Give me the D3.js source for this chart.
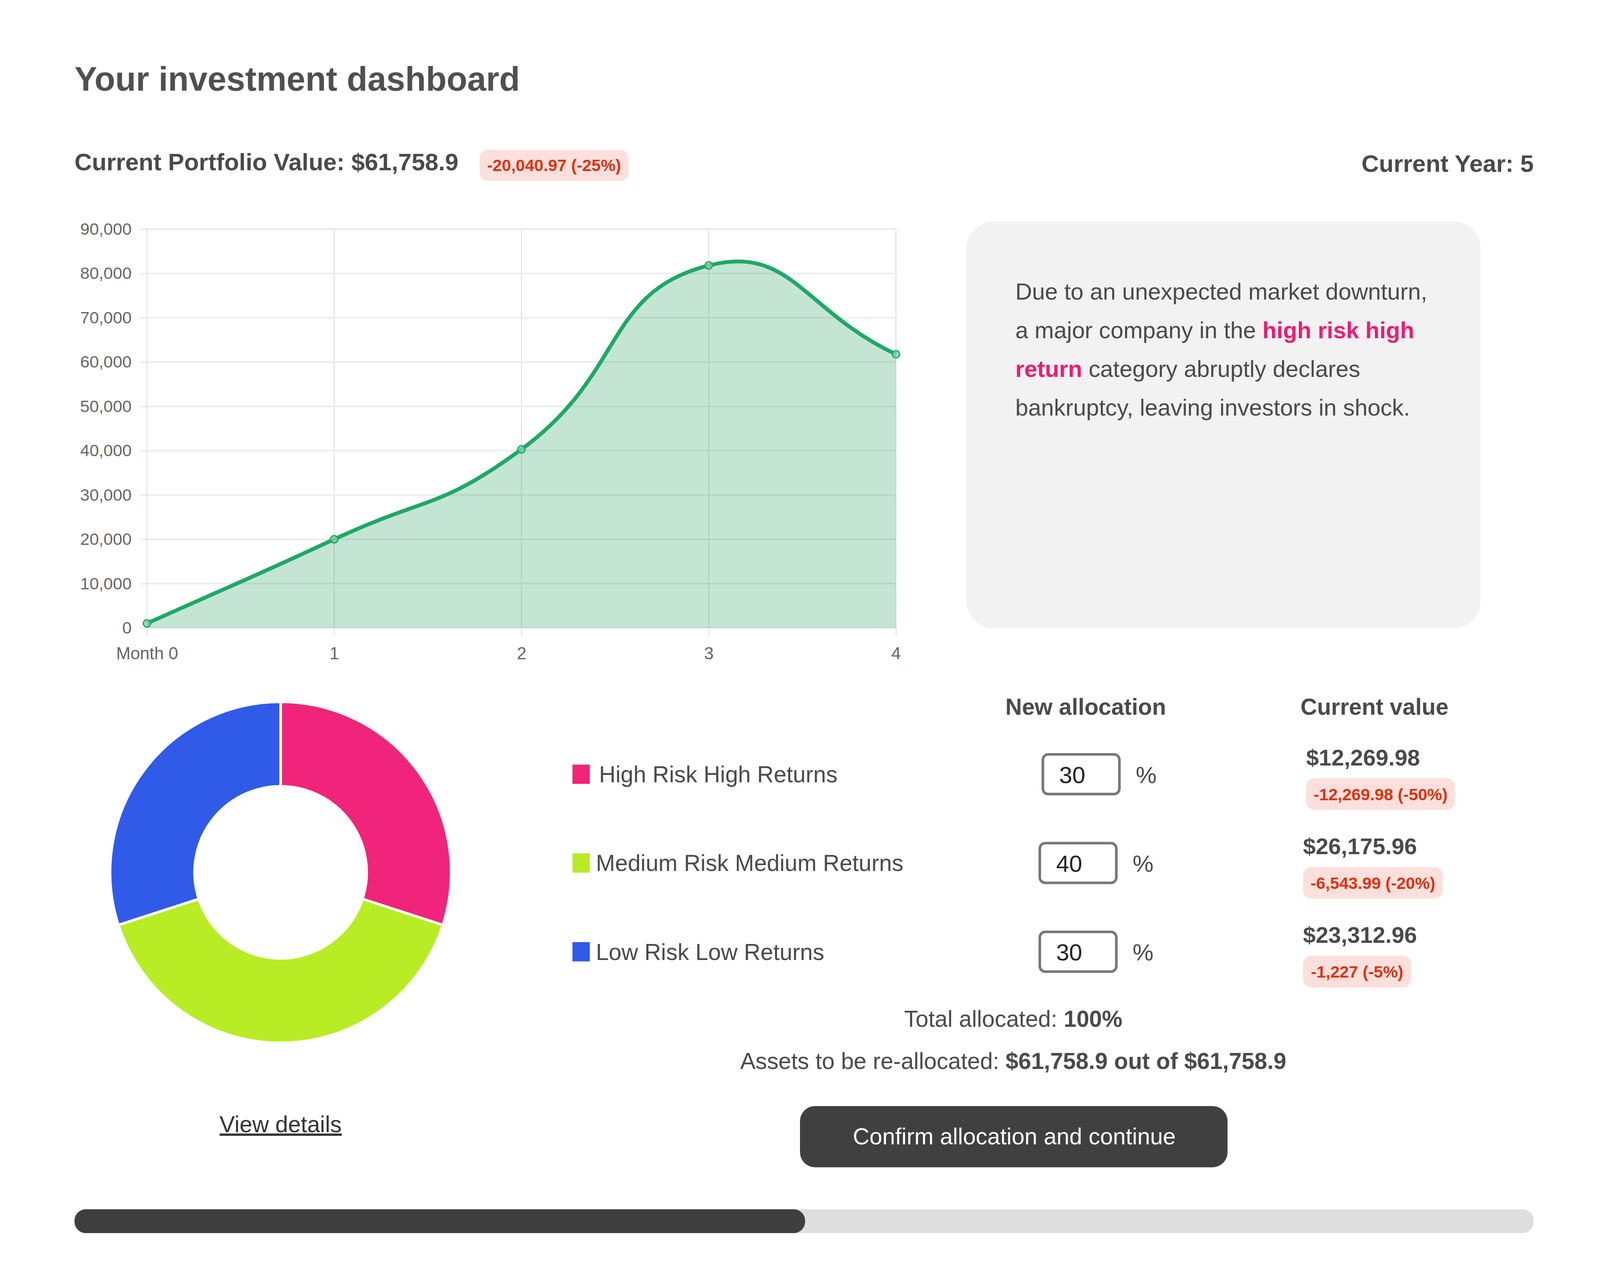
<!DOCTYPE html>
<html><head><meta charset="utf-8">
<script src="https://cdn.jsdelivr.net/npm/d3@7"></script>
<style>
html,body{margin:0;padding:0;background:#fff;overflow:hidden}
svg{display:block}
text{font-family:"Liberation Sans",Arial,sans-serif;fill:#4a4a4a}
</style></head><body>
<script>
const monthLabels = ["Month 0","1","2","3","4"];
const portfolioValues = [1000,20000,40300,81800,61759];
const yTicks = [0,10000,20000,30000,40000,50000,60000,70000,80000,90000];
const assetNames = ["High Risk High Returns","Medium Risk Medium Returns","Low Risk Low Returns"];
const allocations = [30,40,30];
const assetColors = ["#f0247a","#b8ec24","#2f5be8"];
const currentValues = ["$12,269.98","$26,175.96","$23,312.96"];
const changes = ["-12,269.98 (-50%)","-6,543.99 (-20%)","-1,227 (-5%)"];
const infoLines = [
 [["Due to an unexpected market downturn,",0]],
 [["a major company in the ",0],["high risk high",1]],
 [["return",1],[" category abruptly declares",0]],
 [["bankruptcy, leaving investors in shock.",0]]
];
const W=window.innerWidth,H=window.innerHeight,sx=W/1568,sy=H/1131,sm=Math.sqrt(sx*sy);
const X=d3.scaleLinear().domain([0,1568]).range([0,W]),Y=d3.scaleLinear().domain([0,1131]).range([0,H]);
const svg=d3.select("body").append("svg").attr("width",W).attr("height",H);
const T=(x,y,s,size,o={})=>{const fs=size*sx;const t=svg.append("text").attr("x",X(x)).attr("y",Y(y)-.36*size*(sy-sx)).text(s).attr("font-size",fs);
 if(o.b)t.attr("font-weight",700); if(o.a)t.attr("text-anchor",o.a); if(o.c)t.style("fill",o.c); return t;};
const R=(x,y,w,h,r,f)=>svg.append("rect").attr("x",X(x)).attr("y",Y(y)).attr("width",w*sx).attr("height",h*sy).attr("rx",r*sm).attr("fill",f);

T(73,81,"Your investment dashboard",33.2,{b:1,c:"#505050"});
T(73,151,"Current Portfolio Value: $61,758.9",23.6,{b:1});
R(470,132,146,27.5,8,"#fde0dc");
T(543,151.5,"-20,040.97 (-25%)",16.3,{b:1,a:"middle",c:"#dd3311"});
T(1503,152.5,"Current Year: 5",23.6,{b:1,a:"end"});

// line chart
const x=d3.scalePoint().domain(monthLabels).range([X(144),X(878)]);
const y=d3.scaleLinear().domain([0,90000]).range([Y(553.5),Y(202)]);
const g=svg.append("g");
const ax=g.append("g").attr("transform",`translate(0,${Y(553.5)})`).call(d3.axisBottom(x).tickSize(7*sy).tickPadding(10*sy));
const ay=g.append("g").attr("transform",`translate(${X(144)},0)`).call(d3.axisLeft(y).tickValues(yTicks).tickFormat(d3.format(",")).tickSize(7*sx).tickPadding(8*sx));
ax.select(".domain").remove(); ay.select(".domain").remove();
ax.selectAll("line").attr("stroke","#dcdcdc").attr("stroke-width",.8*sm);
ay.selectAll("line").attr("stroke","#ebebeb").attr("stroke-width",1.4*sm);
ax.selectAll("text").attr("font-size",16.8*sx).style("fill","#666");
ay.selectAll("text").attr("font-size",16.5*sx).style("fill","#666");
g.append("g").selectAll("line").data(monthLabels).join("line").attr("x1",d=>x(d)).attr("x2",d=>x(d)).attr("y1",y(90000)).attr("y2",y(0)).attr("stroke","#dcdcdc").attr("stroke-width",.8*sm);
g.append("g").selectAll("line").data(yTicks).join("line").attr("x1",X(144)).attr("x2",X(878)).attr("y1",d=>y(d)).attr("y2",d=>y(d)).attr("stroke","#ebebeb").attr("stroke-width",1.4*sm);

// Chart.js style spline
function spline(ctx){let p=[],line=0;return{
 areaStart(){line=0},areaEnd(){ctx.closePath()},
 lineStart(){p=[]},
 point(a,b){p.push([+a,+b])},
 lineEnd(){
  const t=.5,n=p.length,cp=[];
  for(let i=0;i<n;i++){const pr=p[Math.max(i-1,0)],c=p[i],nx=p[Math.min(i+1,n-1)];
   const d1=Math.hypot(c[0]-pr[0],c[1]-pr[1]),d2=Math.hypot(nx[0]-c[0],nx[1]-c[1]);
   const s=d1+d2||1,fa=t*d1/s,fb=t*d2/s;
   cp.push({p:[c[0]-fa*(nx[0]-pr[0]),c[1]-fa*(nx[1]-pr[1])],n:[c[0]+fb*(nx[0]-pr[0]),c[1]+fb*(nx[1]-pr[1])]});}
  if(line)ctx.lineTo(p[0][0],p[0][1]);else ctx.moveTo(p[0][0],p[0][1]);
  line=1;
  for(let i=1;i<n;i++)ctx.bezierCurveTo(cp[i-1].n[0],cp[i-1].n[1],cp[i].p[0],cp[i].p[1],p[i][0],p[i][1]);
 }};}
const pts=portfolioValues.map((v,i)=>({m:monthLabels[i],v}));
g.append("path").datum(pts).attr("fill","rgba(20,150,80,.25)")
 .attr("d",d3.area().x(d=>x(d.m)).y0(y(0)).y1(d=>y(d.v)).curve(spline));
g.append("path").datum(pts).attr("fill","none").attr("stroke","#1fa866").attr("stroke-width",3.6*sm)
 .attr("d",d3.line().x(d=>x(d.m)).y(d=>y(d.v)).curve(spline));
g.append("g").selectAll("circle").data(pts).join("circle").attr("cx",d=>x(d.m)).attr("cy",d=>y(d.v)).attr("r",3.4*sm)
 .attr("fill","rgba(130,210,170,.8)").attr("stroke","#1fa866").attr("stroke-width",1.2*sm);

// info box
R(947,195,504,359,26,"#f2f2f2");
infoLines.forEach((l,i)=>{const t=T(995,265+i*34,"",22.7);
 l.forEach(([s,h])=>{const sp=t.append("tspan").text(s); if(h)sp.attr("font-weight",700).style("fill","#ee1b72");});});

// donut
const pie=d3.pie().sort(null)(allocations);
const arc=d3.arc().innerRadius(80*sm).outerRadius(158.5*sm);
svg.append("g").attr("transform",`translate(${X(275)},${Y(769)})`).selectAll("path").data(pie).join("path")
 .attr("d",arc).attr("fill",(d,i)=>assetColors[i]).attr("stroke","#fff").attr("stroke-width",2.4*sm);
T(275,999,"View details",22.5,{a:"middle",c:"#333"}).attr("text-decoration","underline");

// table
T(1064,631,"New allocation",22.5,{b:1,a:"middle"});
T(1347,631,"Current value",22.5,{b:1,a:"middle"});
const shift=[3,0,0], rowY=d3.scalePoint().domain(assetNames).range([682.5,839]);
const badgeW=[146,137,106];
assetNames.forEach((n,i)=>{
 const c=rowY(n),d=shift[i];
 R(561,c-8.5,17,17,0,assetColors[i]);
 T(584+d,c+8,n,22.5);
 svg.append("rect").attr("x",X(1019+d)).attr("y",Y(c-17.5)).attr("width",75*sx).attr("height",35*sy).attr("rx",5*sm).attr("fill","#fff").attr("stroke","#777").attr("stroke-width",2.4*sm);
 T(1035+d,c+8.5,String(allocations[i]),23,{c:"#222"});
 T(1110+d,c+8.5,"%",23);
 T(1277+d,c-7,currentValues[i],22.3,{b:1});
 R(1277+d,c+3.5,badgeW[i],28,8,"#fde0dc");
 T(1277+d+badgeW[i]/2,c+23.5,changes[i],16.3,{b:1,a:"middle",c:"#dd3311"});
});
const t1=T(993,906,"Total allocated: ",22.5,{a:"middle"}); t1.append("tspan").attr("font-weight",700).text("100%");
const t2=T(993,943,"Assets to be re-allocated: ",22.5,{a:"middle"}); t2.append("tspan").attr("font-weight",700).text("$61,758.9 out of $61,758.9");
R(784,975,419,54,14,"#404040");
T(994,1009.5,"Confirm allocation and continue",22.6,{a:"middle",c:"#fff"});
R(73,1066,1430,21,10.5,"#dedede");
R(73,1066,716,21,10.5,"#3f3f3f");
</script></body></html>
